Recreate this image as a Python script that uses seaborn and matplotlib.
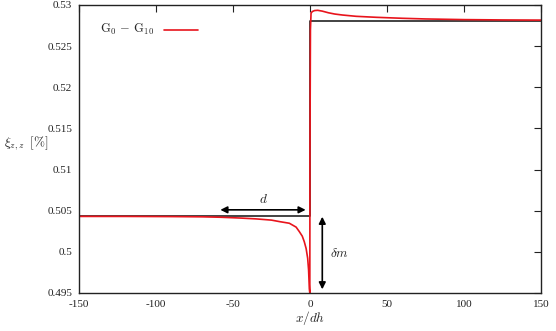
import numpy as np
import pandas as pd
import matplotlib.pyplot as plt
import seaborn as sns

# red curve G0 - G10
x_red = [-150, -120, -90, -70, -58, -45, -35, -25, -19.5, -13.4, -9, -6.9, -5, -3.7, -2.5,
         -1.5, -0.9, -0.4, -0.1, 0.0, 0.3, 0.7, 1.5, 3, 5, 8, 12, 16, 21, 30, 43, 60, 75, 100, 125, 150]
y_red = [0.50430, 0.50430, 0.50428, 0.50425, 0.50420, 0.50410, 0.50400, 0.50385, 0.50366, 0.50347,
         0.50300, 0.50245, 0.50190, 0.50123, 0.50040, 0.49922, 0.49780, 0.49550, 0.49500, 0.51200,
         0.52700, 0.52900, 0.52920, 0.52932, 0.52935, 0.52925, 0.52905, 0.52890, 0.52878, 0.52862,
         0.52850, 0.52838, 0.52830, 0.52822, 0.52818, 0.52816]

# black reference step
x_ref = [-150, 0, 0, 150]
y_ref = [0.5044, 0.5044, 0.5281, 0.5281]

x_ticks = [-150, -100, -50, 0, 50, 100, 150]
y_ticks = [0.495, 0.5, 0.505, 0.51, 0.515, 0.52, 0.525, 0.53]

sns.set_style("white")
plt.rcParams['font.family'] = ['Liberation Serif', 'DejaVu Serif']
plt.rcParams['mathtext.fontset'] = 'cm'
plt.rcParams['axes.unicode_minus'] = False

fig = plt.figure(figsize=(5.56, 3.31), dpi=100)
ax = fig.add_axes([0.142, 0.115, 0.831, 0.870])

df_ref = pd.DataFrame({'x': x_ref, 'y': y_ref})
df_red = pd.DataFrame({'x': x_red, 'y': y_red})
sns.lineplot(data=df_ref, x='x', y='y', color='#222222', linewidth=1.2,
             sort=False, estimator=None, ax=ax)
sns.lineplot(data=df_red, x='x', y='y', color='#e8141c', linewidth=1.2,
             sort=False, estimator=None, ax=ax)

ax.set_xlim(-150, 150)
ax.set_ylim(0.495, 0.53)
ax.set_xticks(x_ticks)
ax.set_xticklabels([str(t) for t in x_ticks])
ax.set_yticks(y_ticks)
ax.set_yticklabels(['0.495', '0.5', '0.505', '0.51', '0.515', '0.52', '0.525', '0.53'])
ax.tick_params(direction='in', top=True, right=True, length=5, width=0.8,
               labelsize=8, colors='#222222', pad=5)
for s in ax.spines.values():
    s.set_color('#222222')
    s.set_linewidth(1.0)

ax.set_xlabel('$x/dh$', fontsize=9.5, labelpad=0)
ax.set_ylabel(r'$\xi_{z,z}\;\;[\%]$', fontsize=9.5, rotation=0)
ax.yaxis.set_label_coords(-0.115, 0.49)

# legend-like key
ax.text(-101, 0.5270, r'$\mathrm{G}_0\, -\, \mathrm{G}_{10}$', ha='right', va='center', fontsize=9)
ax.plot([-95, -73], [0.5270, 0.5270], color='#e8141c', linewidth=1.2)

# annotations
ax.annotate('', xy=(-60, 0.5051), xytext=(-1, 0.5051),
            arrowprops=dict(arrowstyle='<|-|>', color='black', lw=1.2, mutation_scale=10))
ax.text(-30, 0.5064, '$d$', ha='center', va='center', fontsize=9.5)
ax.annotate('', xy=(8, 0.5046), xytext=(8, 0.4951),
            arrowprops=dict(arrowstyle='<|-|>', color='black', lw=1.2, mutation_scale=10))
ax.text(13, 0.4998, r'$\delta m$', ha='left', va='center', fontsize=9.5)

plt.savefig('out.png', dpi=100)
